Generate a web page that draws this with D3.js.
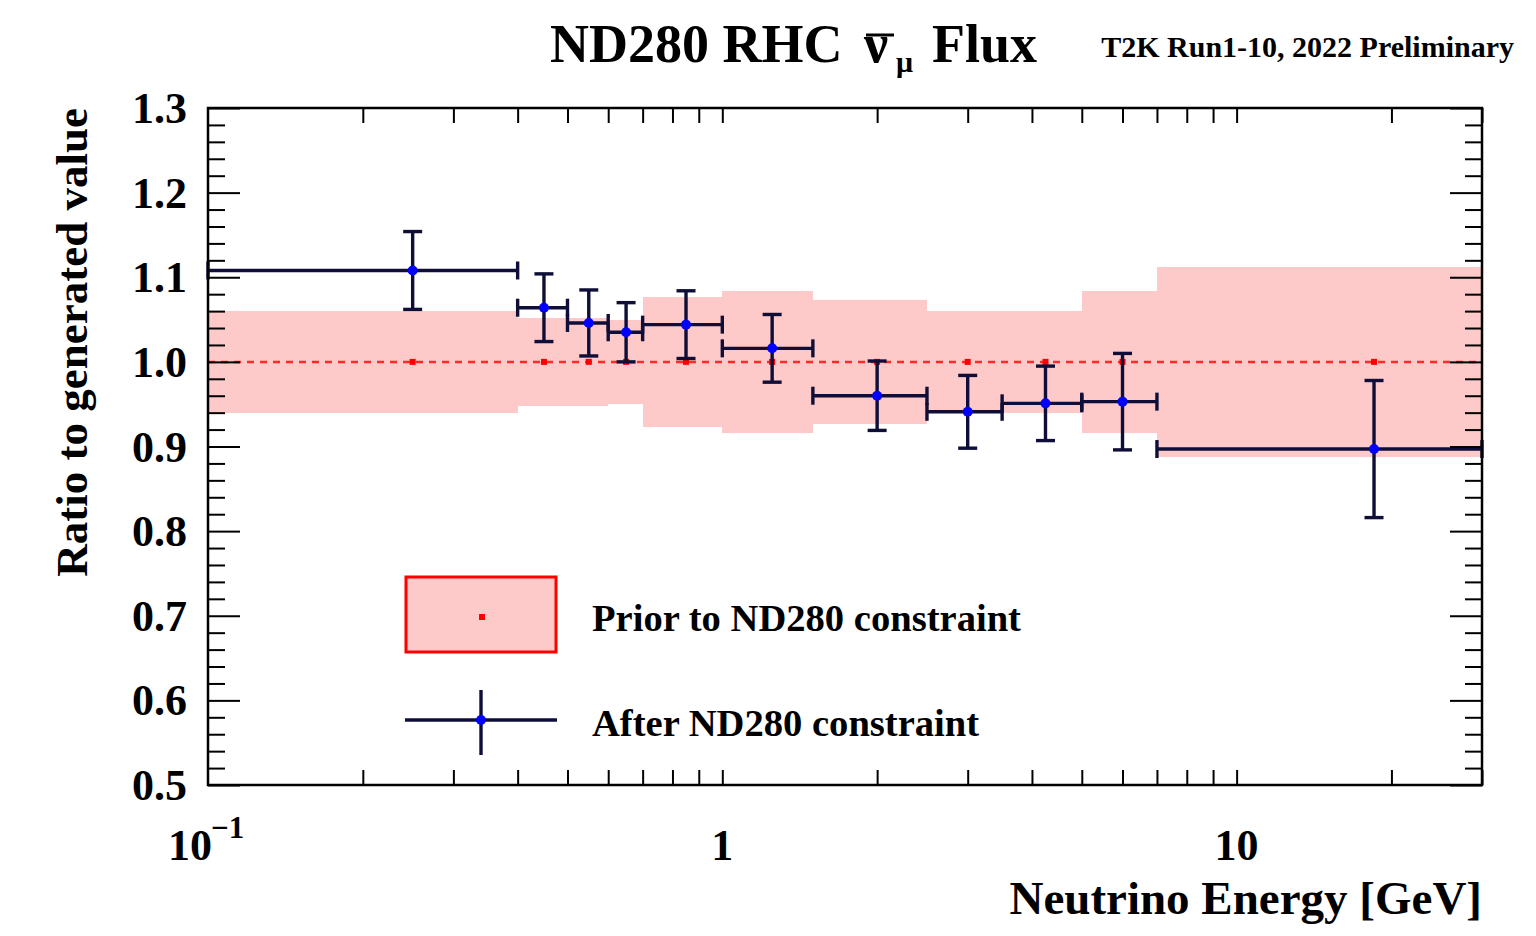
<!DOCTYPE html>
<html>
<head>
<meta charset="utf-8">
<script src="https://cdn.jsdelivr.net/npm/d3@7"></script>
<style>
  html, body { margin: 0; padding: 0; background: #ffffff; }
  svg { display: block; }
  text { font-family: "Liberation Serif", "Times New Roman", serif; font-weight: bold; fill: #000; }
</style>
</head>
<body>
<svg id="chart" width="1536" height="936"></svg>
<script>
// Energy binning (GeV) shared by the prior band and the post-fit points
const binEdges   = [0.1, 0.4, 0.5, 0.6, 0.7, 1.0, 1.5, 2.5, 3.5, 5.0, 7.0, 30.0];
const binCentres = [0.25, 0.45, 0.55, 0.65, 0.85, 1.25, 2.0, 3.0, 4.25, 6.0, 18.5];

// Prior to ND280 constraint: nominal ratio and 1-sigma band
const priorValue = [1.0, 1.0, 1.0, 1.0, 1.0, 1.0, 1.0, 1.0, 1.0, 1.0, 1.0];
const priorError = [0.060, 0.052, 0.052, 0.050, 0.077, 0.084, 0.073, 0.060, 0.060, 0.084, 0.112];

// After ND280 constraint: fitted ratio and error
const postValue = [1.108, 1.064, 1.046, 1.035, 1.044, 1.016, 0.960, 0.941, 0.951, 0.953, 0.897];
const postError = [0.046, 0.040, 0.039, 0.035, 0.040, 0.040, 0.041, 0.043, 0.044, 0.057, 0.081];

// Axis ticks and labels
const yMajorTicks = [0.5, 0.6, 0.7, 0.8, 0.9, 1.0, 1.1, 1.2, 1.3];
const yMinorTicks = [0.52,0.54,0.56,0.58,0.62,0.64,0.66,0.68,0.72,0.74,0.76,0.78,0.82,0.84,0.86,0.88,
                     0.92,0.94,0.96,0.98,1.02,1.04,1.06,1.08,1.12,1.14,1.16,1.18,1.22,1.24,1.26,1.28];
const xTicks = [0.2,0.3,0.4,0.5,0.6,0.7,0.8,0.9,1,2,3,4,5,6,7,8,9,10,20,30];
const xLabelTicks = [0.1, 1, 10];

const titleText = "ND280 RHC";
const subTitleText = "T2K Run1-10, 2022 Preliminary";
const xTitle = "Neutrino Energy [GeV]";
const yTitle = "Ratio to generated value";
const legendLabels = ["Prior to ND280 constraint", "After ND280 constraint"];

const svg = d3.select("#chart");
const frame = { left: 208, right: 1482, top: 108, bottom: 785 };

const x = d3.scaleLog().domain([0.1, 30]).range([frame.left, frame.right]);
const y = d3.scaleLinear().domain([0.5, 1.3]).range([frame.bottom, frame.top]);

const bandFill = "#fdc9c9";
const barColor = "#0e0e38";
const markColor = "#0000ff";

// ---- prior band, one rectangle per bin
const bins = binCentres.map((c, i) => ({
  lo: binEdges[i], hi: binEdges[i + 1], c,
  pv: priorValue[i], pe: priorError[i],
  v: postValue[i], e: postError[i]
}));

svg.append("g").selectAll("rect").data(bins).join("rect")
  .attr("x", d => x(d.lo))
  .attr("width", d => x(d.hi) - x(d.lo))
  .attr("y", d => y(d.pv + d.pe))
  .attr("height", d => y(d.pv - d.pe) - y(d.pv + d.pe))
  .attr("fill", bandFill)
  .attr("shape-rendering", "crispEdges");

// nominal line and prior markers
svg.append("line")
  .attr("x1", x(0.1)).attr("x2", x(30))
  .attr("y1", y(1.0)).attr("y2", y(1.0))
  .attr("stroke", "#ff2a2a").attr("stroke-width", 2.5)
  .attr("stroke-dasharray", "7,6");

svg.append("g").selectAll("rect").data(bins).join("rect")
  .attr("x", d => x(d.c) - 3).attr("y", d => y(d.pv) - 3)
  .attr("width", 6).attr("height", 6)
  .attr("fill", "#ff0000");

// ---- post-fit error bars
const eb = svg.append("g").attr("stroke", barColor).attr("stroke-width", 3.4).attr("fill", "none");
const capV = 9;   // half-height of the bin-edge caps
const capH = 9.5; // half-width of the vertical error caps

bins.forEach(d => {
  const cx = x(d.c), cy = y(d.v);
  const xl = x(d.lo), xr = x(d.hi);
  const yt = y(d.v + d.e), yb = y(d.v - d.e);
  eb.append("line").attr("x1", xl).attr("x2", xr).attr("y1", cy).attr("y2", cy);
  eb.append("line").attr("x1", xl).attr("x2", xl).attr("y1", cy - capV).attr("y2", cy + capV);
  eb.append("line").attr("x1", xr).attr("x2", xr).attr("y1", cy - capV).attr("y2", cy + capV);
  eb.append("line").attr("x1", cx).attr("x2", cx).attr("y1", yt).attr("y2", yb);
  eb.append("line").attr("x1", cx - capH).attr("x2", cx + capH).attr("y1", yt).attr("y2", yt);
  eb.append("line").attr("x1", cx - capH).attr("x2", cx + capH).attr("y1", yb).attr("y2", yb);
});

svg.append("g").selectAll("circle").data(bins).join("circle")
  .attr("cx", d => x(d.c)).attr("cy", d => y(d.v)).attr("r", 5)
  .attr("fill", markColor);

// ---- axes (ticks inside the frame on all four sides)
function styleAxis(g) {
  g.select(".domain").remove();
  g.selectAll(".tick line").attr("stroke", "#000").attr("stroke-width", 2);
}

svg.append("g").attr("transform", `translate(${frame.left},0)`)
  .call(d3.axisLeft(y).tickValues(yMinorTicks).tickSize(-17).tickFormat(""))
  .call(styleAxis);
svg.append("g").attr("transform", `translate(${frame.left},0)`)
  .call(d3.axisLeft(y).tickValues(yMajorTicks).tickSize(-32).tickPadding(21).tickFormat(d3.format(".1f")))
  .call(styleAxis)
  .call(g => g.selectAll(".tick text")
    .attr("font-size", 44).attr("font-family", "Liberation Serif, serif")
    .attr("font-weight", "bold").attr("fill", "#000").attr("dy", "0.33em"));

svg.append("g").attr("transform", `translate(${frame.right},0)`)
  .call(d3.axisRight(y).tickValues(yMinorTicks).tickSize(-17).tickFormat(""))
  .call(styleAxis);
svg.append("g").attr("transform", `translate(${frame.right},0)`)
  .call(d3.axisRight(y).tickValues(yMajorTicks).tickSize(-32).tickFormat(""))
  .call(styleAxis);

svg.append("g").attr("transform", `translate(0,${frame.bottom})`)
  .call(d3.axisBottom(x).tickValues(xTicks).tickSize(-15).tickFormat(""))
  .call(styleAxis);
svg.append("g").attr("transform", `translate(0,${frame.top})`)
  .call(d3.axisTop(x).tickValues(xTicks).tickSize(-15).tickFormat(""))
  .call(styleAxis);

// x tick labels
const xl = svg.append("g");
xLabelTicks.forEach(v => {
  if (v === 0.1) {
    xl.append("text").attr("x", x(v) + 4).attr("y", 860)
      .attr("text-anchor", "end").attr("font-size", 44).text("10");
    xl.append("text").attr("x", x(v) + 3).attr("y", 838)
      .attr("text-anchor", "start").attr("font-size", 31).text("\u22121");
  } else {
    xl.append("text").attr("x", x(v)).attr("y", 860)
      .attr("text-anchor", "middle").attr("font-size", 44).text(String(v));
  }
});

// frame
svg.append("rect")
  .attr("x", frame.left).attr("y", frame.top)
  .attr("width", frame.right - frame.left).attr("height", frame.bottom - frame.top)
  .attr("fill", "none").attr("stroke", "#000").attr("stroke-width", 2.5);

// ---- axis titles
svg.append("text")
  .attr("x", frame.right).attr("y", 914)
  .attr("text-anchor", "end").attr("font-size", 47).text(xTitle);

svg.append("text")
  .attr("transform", `translate(87,${frame.top}) rotate(-90)`)
  .attr("text-anchor", "end").attr("font-size", 45).text(yTitle);

// ---- title
const title = svg.append("g");
title.append("text").attr("x", 550).attr("y", 62).attr("font-size", 54).text(titleText);
title.append("text").attr("x", 864).attr("y", 62).attr("font-size", 54).text("\u03bd");
title.append("line").attr("x1", 866).attr("x2", 894).attr("y1", 35).attr("y2", 35)
  .attr("stroke", "#000").attr("stroke-width", 3);
title.append("text").attr("x", 896).attr("y", 72).attr("font-size", 30).text("\u03bc");
title.append("text").attr("x", 932).attr("y", 62).attr("font-size", 54).text("Flux");

svg.append("text").attr("x", 1514).attr("y", 57)
  .attr("text-anchor", "end").attr("font-size", 30).text(subTitleText);

// ---- legend
const lg = svg.append("g");
lg.append("rect").attr("x", 406).attr("y", 577).attr("width", 150).attr("height", 75)
  .attr("fill", bandFill).attr("stroke", "#ff0000").attr("stroke-width", 3);
lg.append("rect").attr("x", 479).attr("y", 614).attr("width", 6).attr("height", 6).attr("fill", "#ff0000");
lg.append("text").attr("x", 592).attr("y", 631).attr("font-size", 38.6).text(legendLabels[0]);

lg.append("line").attr("x1", 405).attr("x2", 557).attr("y1", 720).attr("y2", 720)
  .attr("stroke", barColor).attr("stroke-width", 3.4);
lg.append("line").attr("x1", 481).attr("x2", 481).attr("y1", 690).attr("y2", 755)
  .attr("stroke", barColor).attr("stroke-width", 3.4);
lg.append("circle").attr("cx", 481).attr("cy", 720).attr("r", 5).attr("fill", markColor);
lg.append("text").attr("x", 592).attr("y", 736).attr("font-size", 38.6).text(legendLabels[1]);
</script>
</body>
</html>
